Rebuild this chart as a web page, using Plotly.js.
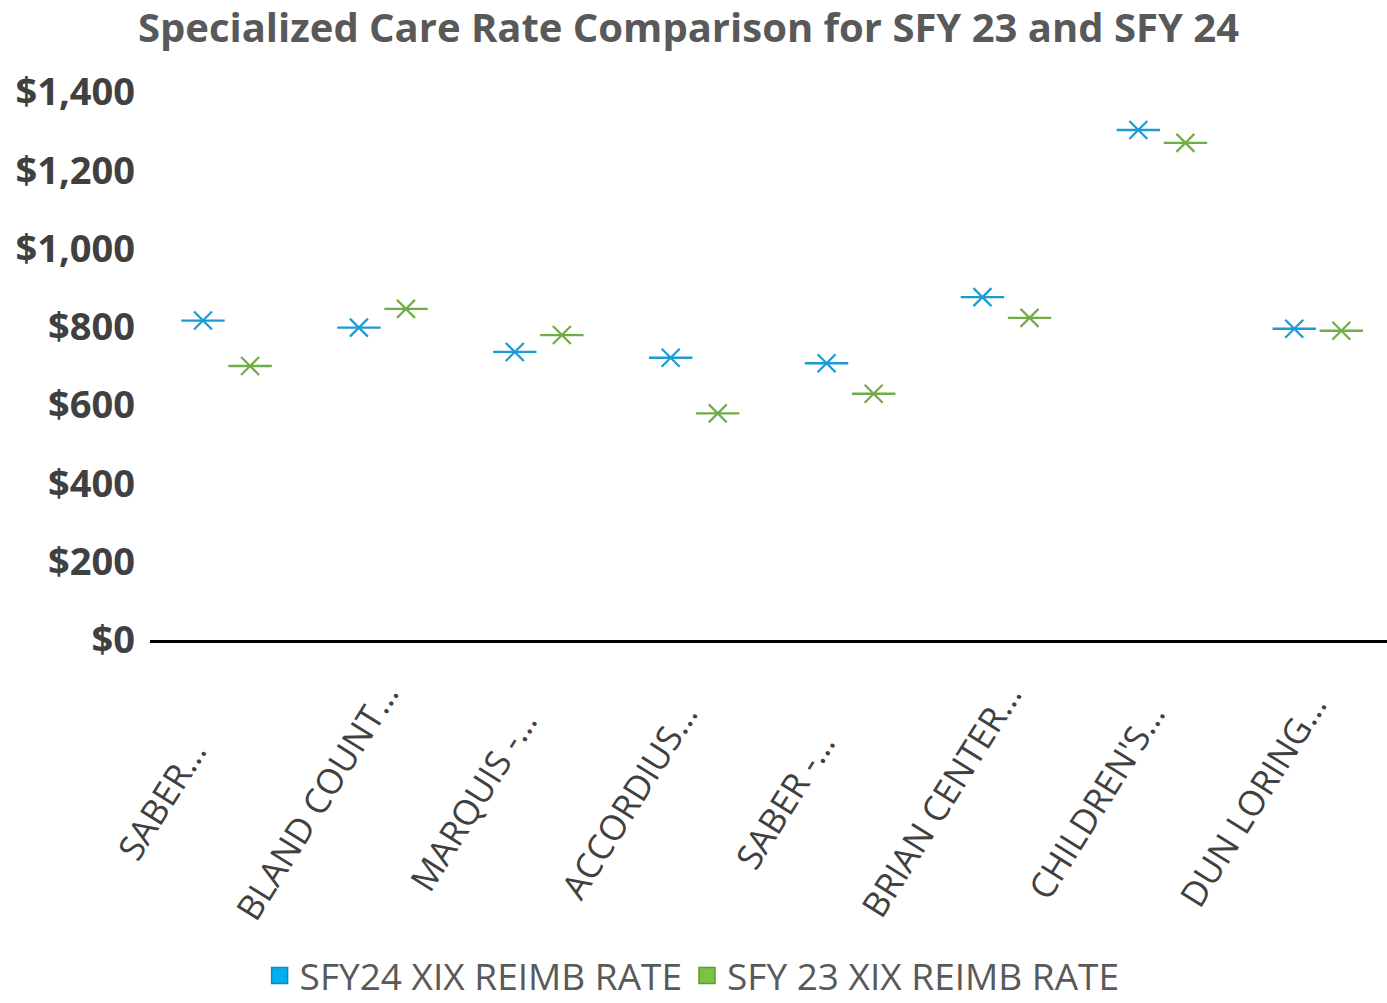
<!DOCTYPE html>
<html>
<head>
<meta charset="utf-8">
<script src="https://cdn.plot.ly/plotly-3.0.1.min.js"></script>
<style>
  html, body { margin: 0; padding: 0; background: #ffffff; }
  #chart { width: 1387px; height: 1003px; }
</style>
</head>
<body>
<div id="chart"></div>
<script>
// ---- Data ----
const categories = ["SABER…", "BLAND COUNT…", "MARQUIS -…", "ACCORDIUS…", "SABER -…", "BRIAN CENTER…", "CHILDREN'S…", "DUN LORING…"];
const sfy24Rate = [816, 798, 736, 721, 707, 876, 1303, 795];
const sfy23Rate = [700, 846, 779, 579, 629, 823, 1270, 790];
const seriesNames = ["SFY24 XIX REIMB RATE", "SFY 23 XIX REIMB RATE"];
const yTickValues = [0, 200, 400, 600, 800, 1000, 1200, 1400];
const yTickLabels = ["$0", "$200", "$400", "$600", "$800", "$1,000", "$1,200", "$1,400"];

// ---- Style ----
const BLUE = "#1C9AD3";
const GREEN = "#70AD47";
const OFFSET = 0.151;
const idx = categories.map((c, i) => i);

function seriesTraces(vals, color, shift, name) {
  const xs = idx.map(i => i + shift);
  return [
    {
      type: "scatter", mode: "markers", x: xs, y: vals, name: name,
      showlegend: false, hoverinfo: "skip",
      marker: { symbol: "line-ew", size: 31, color: color, line: { color: color, width: 2.4 } }
    },
    {
      type: "scatter", mode: "markers", x: xs, y: vals, name: name,
      showlegend: false, hoverinfo: "skip",
      marker: { symbol: "x-thin", size: 18, color: color, line: { color: color, width: 2.2 } }
    }
  ];
}

const traces = []
  .concat(seriesTraces(sfy24Rate, BLUE, -OFFSET, seriesNames[0]))
  .concat(seriesTraces(sfy23Rate, GREEN, OFFSET, seriesNames[1]))
  .concat([
    { type: "scatter", mode: "markers", x: [null], y: [null], name: seriesNames[0], showlegend: true,
      marker: { symbol: "square", size: 18, color: "#00B0F0", line: { color: "#1487C0", width: 1.5 } } },
    { type: "scatter", mode: "markers", x: [null], y: [null], name: seriesNames[1], showlegend: true,
      marker: { symbol: "square", size: 18, color: "#7DC242", line: { color: "#5E9A30", width: 1.5 } } }
  ]);

const annotations = categories.map((c, i) => ({
  text: c, x: i - 0.423, xref: "x", y: -0.292, yref: "paper",
  showarrow: false, xanchor: "center", yanchor: "middle", textangle: -58,
  font: { family: "Open Sans, sans-serif", size: 35, color: "#404040" }
}));

const layout = {
  width: 1387, height: 1003,
  margin: { l: 150, r: 0, t: 92, b: 363 },
  paper_bgcolor: "#ffffff", plot_bgcolor: "#ffffff",
  title: {
    text: "<b>Specialized Care Rate Comparison for SFY 23 and SFY 24</b>",
    x: 0.4964, xanchor: "center", y: 0.972, yanchor: "middle",
    font: { family: "Open Sans, sans-serif", size: 40, color: "#595959" }
  },
  xaxis: {
    range: [-0.491, 7.444], showticklabels: false, showgrid: false, zeroline: false,
    showline: true, linecolor: "#000000", linewidth: 3, ticks: "", fixedrange: true
  },
  yaxis: {
    range: [0, 1400], tickvals: yTickValues, ticktext: yTickLabels,
    showgrid: false, zeroline: false, showline: false, ticks: "",
    ticklabelstandoff: 14,
    tickfont: { family: "Open Sans, sans-serif", size: 38, color: "#404040", weight: "bold" },
    fixedrange: true
  },
  showlegend: true,
  legend: {
    orientation: "h", x: 0.499, xref: "container", xanchor: "center",
    y: 0.027, yref: "container", yanchor: "middle",
    font: { family: "Open Sans, sans-serif", size: 37, color: "#595959" },
    itemclick: false, itemdoubleclick: false
  },
  annotations: annotations
};

Plotly.newPlot("chart", traces, layout, { staticPlot: true, displayModeBar: false });
</script>
</body>
</html>
